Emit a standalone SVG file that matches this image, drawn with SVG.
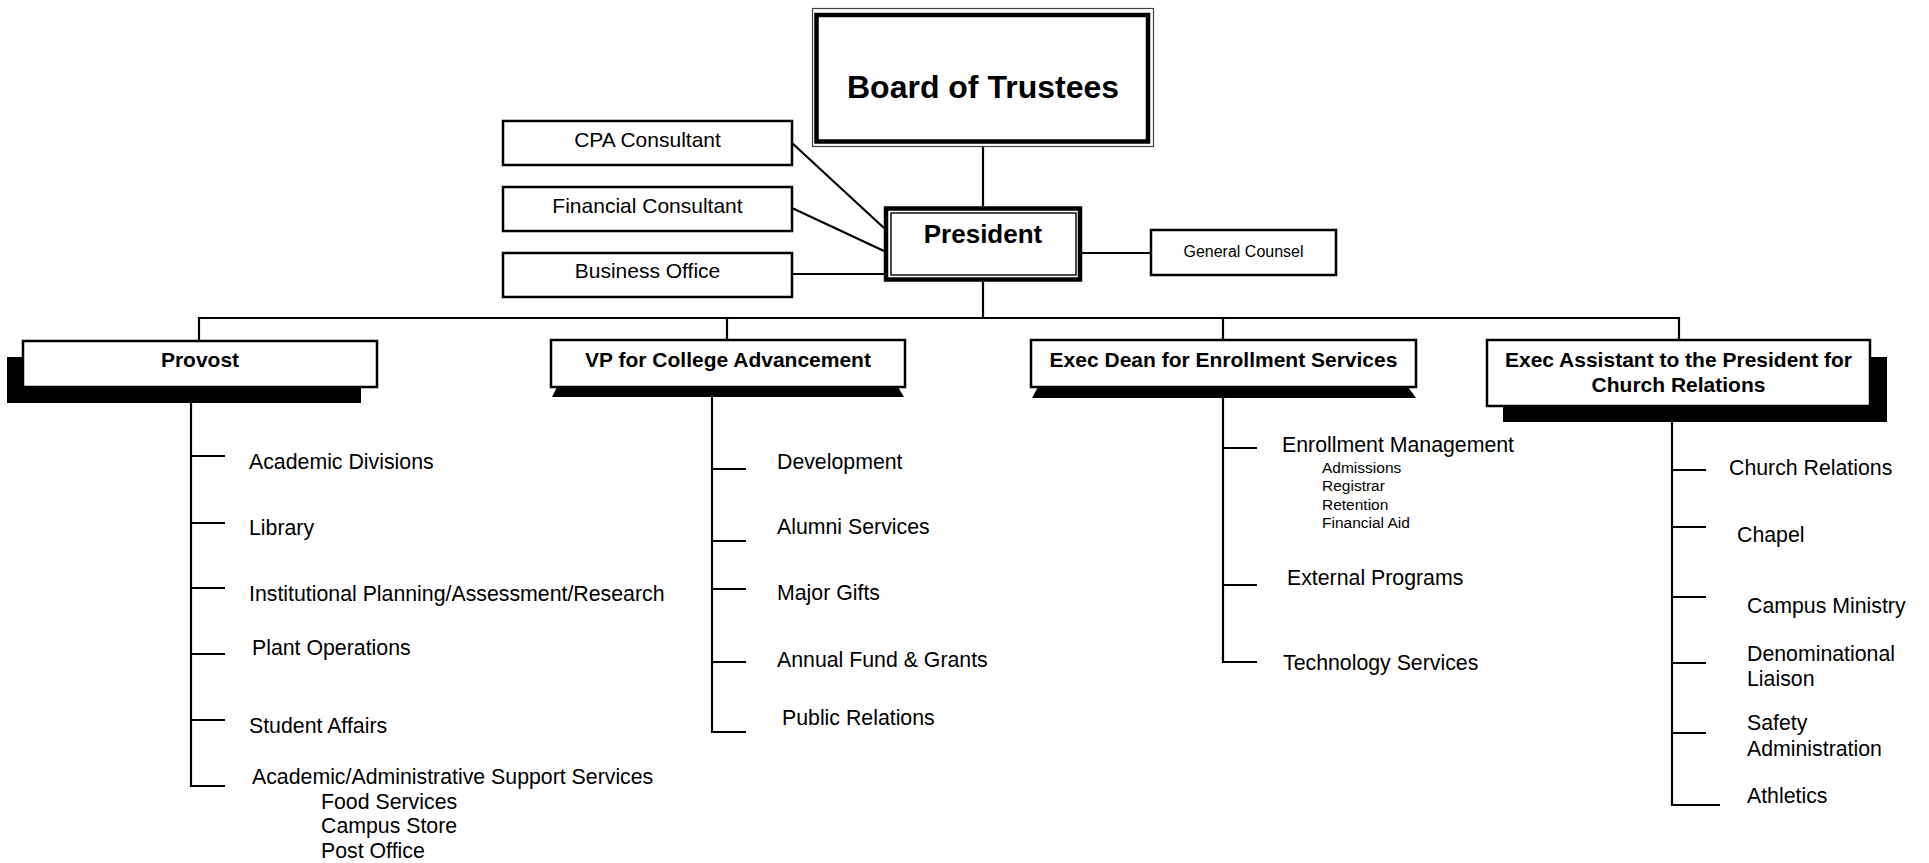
<svg xmlns="http://www.w3.org/2000/svg" width="1929" height="863" viewBox="0 0 1929 863">
<style>
text{font-family:'Liberation Sans',Arial,Helvetica,sans-serif;fill:#000}
.t{font-size:21.3px}
.tc{font-size:21px;text-anchor:middle}
.b{font-size:21px;font-weight:bold;text-anchor:middle}
.sm{font-size:15.5px}
.box{fill:#fff;stroke:#000;stroke-width:2.5}
.ln{fill:none;stroke:#000;stroke-width:2.2}
.shadow{fill:#000}
</style>
<rect width="1929" height="863" fill="#fff"/>
<g id="connectors">
<path class="ln" d="M983 147 V206"/>
<path class="ln" d="M792 143 L884 228"/>
<path class="ln" d="M792 208 L884 251"/>
<path class="ln" d="M792 274 H884"/>
<path class="ln" d="M1082 253 H1151"/>
<path class="ln" d="M983 282 V318"/>
<path class="ln" d="M199 341 V318 H1679 V340"/>
<path class="ln" d="M727 318 V340"/>
<path class="ln" d="M1223 318 V340"/>
<path class="ln" d="M191 403 V786 H225 M191 456 H225 M191 523 H225 M191 588 H225 M191 654 H225 M191 720 H225"/>
<path class="ln" d="M712 397 V732 H746 M712 469 H746 M712 541 H746 M712 589 H746 M712 662 H746"/>
<path class="ln" d="M1223 398 V662 H1257 M1223 448 H1257 M1223 585 H1257"/>
<path class="ln" d="M1672 422 V805 H1720 M1672 470 H1706 M1672 527 H1706 M1672 597 H1706 M1672 663 H1706 M1672 733 H1706"/>
</g>
<g id="board">
<rect x="812.5" y="8.5" width="341" height="138" fill="#fff" stroke="#444" stroke-width="1.2"/>
<rect x="816.5" y="15" width="331.5" height="126.5" fill="none" stroke="#000" stroke-width="4.5"/>
<text x="983" y="98" style="font-size:32px;font-weight:bold;text-anchor:middle">Board of Trustees</text>
</g>
<g id="president">
<rect x="886" y="208.5" width="194" height="71" fill="#fff" stroke="#000" stroke-width="4.5"/>
<rect x="891" y="213" width="185" height="62" fill="none" stroke="#000" stroke-width="1.4"/>
<text x="983" y="243" style="font-size:26px;font-weight:bold;text-anchor:middle">President</text>
</g>
<g id="cpa-consultant">
<rect class="box" x="503" y="121" width="289" height="44"/>
<text class="tc" x="647.5" y="147">CPA Consultant</text>
</g>
<g id="financial-consultant">
<rect class="box" x="503" y="187" width="289" height="44"/>
<text class="tc" x="647.5" y="213">Financial Consultant</text>
</g>
<g id="business-office">
<rect class="box" x="503" y="253" width="289" height="44"/>
<text class="tc" x="647.5" y="278">Business Office</text>
</g>
<g id="general-counsel">
<rect class="box" x="1151" y="230" width="185" height="45"/>
<text x="1243.5" y="257" style="font-size:16px;text-anchor:middle">General Counsel</text>
</g>
<g id="provost">
<rect class="shadow" x="7" y="357" width="354" height="46"/>
<rect class="box" x="23" y="341" width="354" height="46"/>
<text class="b" x="200" y="367">Provost</text>
</g>
<g id="vp-advancement">
<polygon class="shadow" points="557,387 898,387 904,397 552,397"/>
<rect class="box" x="551" y="340" width="354" height="47"/>
<text class="b" x="728" y="367">VP for College Advancement</text>
</g>
<g id="exec-dean">
<polygon class="shadow" points="1038,387 1408,387 1416,398 1032,398"/>
<rect class="box" x="1031" y="340" width="385" height="47"/>
<text class="b" x="1223.5" y="367">Exec Dean for Enrollment Services</text>
</g>
<g id="exec-assistant">
<rect class="shadow" x="1503" y="357" width="384" height="65"/>
<rect class="box" x="1487" y="340" width="383" height="66"/>
<text class="b" x="1678.5" y="367">Exec Assistant to the President for</text>
<text class="b" x="1678.5" y="392">Church Relations</text>
</g>
<g id="provost-units">
<text class="t" x="249" y="469">Academic Divisions</text>
<text class="t" x="249" y="535">Library</text>
<text class="t" x="249" y="601">Institutional Planning/Assessment/Research</text>
<text class="t" x="252" y="655">Plant Operations</text>
<text class="t" x="249" y="733">Student Affairs</text>
<text class="t" x="252" y="784">Academic/Administrative Support Services</text>
<text class="t" x="321" y="809">Food Services</text>
<text class="t" x="321" y="833">Campus Store</text>
<text class="t" x="321" y="858">Post Office</text>
</g>
<g id="vp-units">
<text class="t" x="777" y="469">Development</text>
<text class="t" x="777" y="534">Alumni Services</text>
<text class="t" x="777" y="600">Major Gifts</text>
<text class="t" x="777" y="667">Annual Fund &amp; Grants</text>
<text class="t" x="782" y="725">Public Relations</text>
</g>
<g id="dean-units">
<text class="t" x="1282" y="452">Enrollment Management</text>
<text class="sm" x="1322" y="473">Admissions</text>
<text class="sm" x="1322" y="491">Registrar</text>
<text class="sm" x="1322" y="510">Retention</text>
<text class="sm" x="1322" y="528">Financial Aid</text>
<text class="t" x="1287" y="585">External Programs</text>
<text class="t" x="1283" y="670">Technology Services</text>
</g>
<g id="assistant-units">
<text class="t" x="1729" y="475">Church Relations</text>
<text class="t" x="1737" y="542">Chapel</text>
<text class="t" x="1747" y="613">Campus Ministry</text>
<text class="t" x="1747" y="661">Denominational</text>
<text class="t" x="1747" y="686">Liaison</text>
<text class="t" x="1747" y="730">Safety</text>
<text class="t" x="1747" y="756">Administration</text>
<text class="t" x="1747" y="803">Athletics</text>
</g>
</svg>
